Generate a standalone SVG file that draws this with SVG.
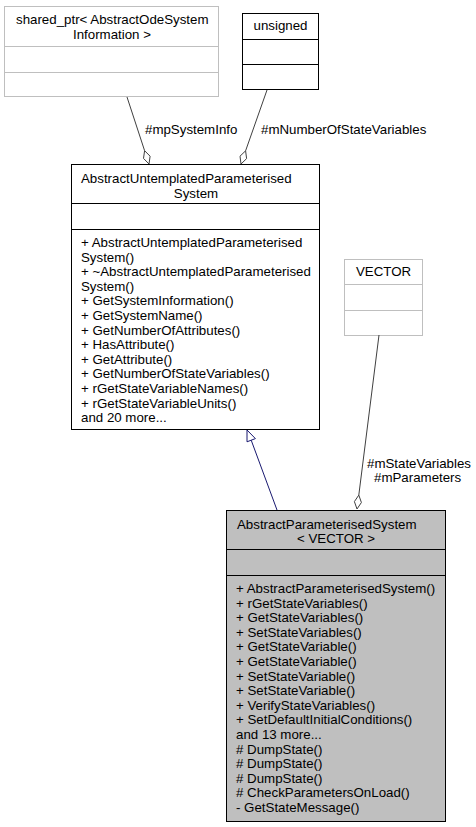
<svg xmlns="http://www.w3.org/2000/svg" width="476" height="827" viewBox="0 0 476 827">
<style>
text{font-family:"Liberation Sans",Arial,sans-serif;font-size:13.3px;fill:#000}
.c{text-anchor:middle}
.gray{fill:#fff;stroke:#bfbfbf;stroke-width:1}
.blk{fill:#fff;stroke:#000;stroke-width:1}
.sel{fill:#bfbfbf;stroke:#000;stroke-width:1}
.agg{stroke:#404040;stroke-width:1;fill:none}
.dia{stroke:#404040;stroke-width:1;fill:#fff}
.inh{stroke:#191970;stroke-width:1;fill:none}
.tri{stroke:#191970;stroke-width:1;fill:#fff}
</style>
<rect width="476" height="827" fill="#fff"/>
<g id="node-shared-ptr">
<rect class="gray" x="4.5" y="6.5" width="214" height="90"/>
<line class="gray" x1="4.5" y1="46.5" x2="218.5" y2="46.5"/>
<line class="gray" x1="4.5" y1="72.5" x2="218.5" y2="72.5"/>
<text x="16" y="24">shared_ptr&lt; AbstractOdeSystem</text>
<text class="c" x="112" y="38.5">Information &gt;</text>
</g>
<g id="node-unsigned">
<rect class="blk" x="242.5" y="13.5" width="76" height="76"/>
<line class="blk" x1="242.5" y1="39.5" x2="318.5" y2="39.5"/>
<line class="blk" x1="242.5" y1="64.5" x2="318.5" y2="64.5"/>
<text class="c" x="280.5" y="30">unsigned</text>
</g>
<g id="node-untemplated">
<rect class="blk" x="71.5" y="164.5" width="248" height="265"/>
<line class="blk" x1="71.5" y1="203.5" x2="319.5" y2="203.5"/>
<line class="blk" x1="71.5" y1="229.5" x2="319.5" y2="229.5"/>
<text x="81" y="183">AbstractUntemplatedParameterised</text>
<text class="c" x="196" y="197.6">System</text>
<text x="81" y="247">+ AbstractUntemplatedParameterised</text>
<text x="81" y="261.6">System()</text>
<text x="81" y="276.2">+ ~AbstractUntemplatedParameterised</text>
<text x="81" y="290.8">System()</text>
<text x="81" y="305.4">+ GetSystemInformation()</text>
<text x="81" y="320">+ GetSystemName()</text>
<text x="81" y="334.6">+ GetNumberOfAttributes()</text>
<text x="81" y="349.2">+ HasAttribute()</text>
<text x="81" y="363.8">+ GetAttribute()</text>
<text x="81" y="378.4">+ GetNumberOfStateVariables()</text>
<text x="81" y="393">+ rGetStateVariableNames()</text>
<text x="81" y="407.6">+ rGetStateVariableUnits()</text>
<text x="81" y="422.2">and 20 more...</text>
</g>
<g id="node-vector">
<rect class="gray" x="344.5" y="259.5" width="78" height="76"/>
<line class="gray" x1="344.5" y1="284.5" x2="422.5" y2="284.5"/>
<line class="gray" x1="344.5" y1="310.5" x2="422.5" y2="310.5"/>
<text class="c" x="383.5" y="275.5">VECTOR</text>
</g>
<g id="node-parameterised">
<rect class="sel" x="226.5" y="510.5" width="219" height="311"/>
<line class="sel" x1="226.5" y1="549.5" x2="445.5" y2="549.5"/>
<line class="sel" x1="226.5" y1="575.5" x2="445.5" y2="575.5"/>
<text x="237" y="528.5">AbstractParameterisedSystem</text>
<text class="c" x="336" y="543.1">&lt; VECTOR &gt;</text>
<text x="236" y="593">+ AbstractParameterisedSystem()</text>
<text x="236" y="607.6">+ rGetStateVariables()</text>
<text x="236" y="622.2">+ GetStateVariables()</text>
<text x="236" y="636.8">+ SetStateVariables()</text>
<text x="236" y="651.4">+ GetStateVariable()</text>
<text x="236" y="666">+ GetStateVariable()</text>
<text x="236" y="680.6">+ SetStateVariable()</text>
<text x="236" y="695.2">+ SetStateVariable()</text>
<text x="236" y="709.8">+ VerifyStateVariables()</text>
<text x="236" y="724.4">+ SetDefaultInitialConditions()</text>
<text x="236" y="739">and 13 more...</text>
<text x="236" y="753.6"># DumpState()</text>
<text x="236" y="768.2"># DumpState()</text>
<text x="236" y="782.8"># DumpState()</text>
<text x="236" y="797.4"># CheckParametersOnLoad()</text>
<text x="236" y="812">- GetStateMessage()</text>
</g>
<g id="connectors">
<line class="agg" x1="127" y1="97" x2="144.6" y2="150.7"/>
<polygon class="dia" points="149,164 150.1,156.2 144.6,150.7 143.5,158.4"/>
<text x="145" y="133.5">#mpSystemInfo</text>
<line class="agg" x1="267" y1="90" x2="245.6" y2="150.8"/>
<polygon class="dia" points="241,164 246.6,158.6 245.6,150.8 240,156.2"/>
<text x="261" y="133.5">#mNumberOfStateVariables</text>
<line class="agg" x1="379" y1="335" x2="358.8" y2="495.1"/>
<polygon class="dia" points="357,509 361.4,502.5 358.8,495.1 354.4,501.6"/>
<text x="367" y="467.5">#mStateVariables</text>
<text x="374" y="482">#mParameters</text>
<line class="inh" x1="277" y1="510" x2="251.2" y2="440.2"/>
<polygon class="tri" points="247,430 255.4,438.6 247,441.8"/>
</g>
</svg>
